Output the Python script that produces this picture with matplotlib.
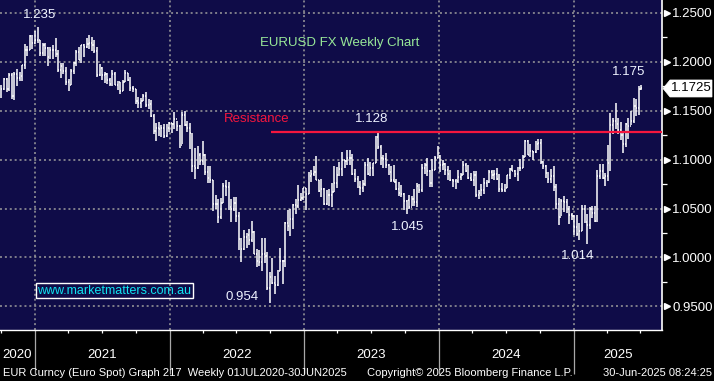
import matplotlib
matplotlib.use('Agg')
import matplotlib.pyplot as plt
import matplotlib.dates as mdates
from matplotlib.patches import Polygon
from matplotlib.transforms import blended_transform_factory, IdentityTransform
from matplotlib.ticker import NullFormatter, FixedLocator
import numpy as np
import pandas as pd

plt.rcParams['font.family'] = ['Liberation Sans', 'DejaVu Sans']

# ---------------- data (weekly EURUSD bars) ----------------
first_week = '2020-09-28'
first_open = 1.1632

high_2020 = [1.1760, 1.1831, 1.1828, 1.1881, 1.1880, 1.1891, 1.1920, 1.1894, 1.1964, 1.2177, 1.2163, 1.2273, 1.2273, 1.2310]
low_2020 = [1.1625, 1.1714, 1.1689, 1.1703, 1.1622, 1.1603, 1.1746, 1.1800, 1.1801, 1.1923, 1.2059, 1.2113, 1.2131, 1.2174]
close_2020 = [1.1715, 1.1826, 1.1717, 1.1860, 1.1647, 1.1875, 1.1833, 1.1856, 1.1962, 1.2121, 1.2113, 1.2256, 1.2188, 1.2216]

high_2021 = [1.2349, 1.2223, 1.2190, 1.2190, 1.2150, 1.2150, 1.2170, 1.2243, 1.2113, 1.1990, 1.1990, 1.1945, 1.1817,
             1.1927, 1.1994, 1.2117, 1.2150, 1.2171, 1.2181, 1.2245, 1.2266, 1.2255, 1.2218, 1.2145, 1.1975, 1.1940,
             1.1895, 1.1880, 1.1831, 1.1909, 1.1898, 1.1804, 1.1793, 1.1810, 1.1909, 1.1884, 1.1846, 1.1753, 1.1720,
             1.1640, 1.1624, 1.1669, 1.1692, 1.1616, 1.1607, 1.1464, 1.1374, 1.1383, 1.1355, 1.1360, 1.1360, 1.1386]
low_2021 = [1.2192, 1.2054, 1.2055, 1.2059, 1.1952, 1.2022, 1.2023, 1.2050, 1.1893, 1.1836, 1.1874, 1.1762, 1.1704,
            1.1760, 1.1874, 1.1953, 1.2015, 1.1986, 1.2051, 1.2135, 1.2133, 1.2104, 1.2092, 1.1847, 1.1848, 1.1808,
            1.1782, 1.1772, 1.1752, 1.1755, 1.1760, 1.1705, 1.1664, 1.1699, 1.1795, 1.1802, 1.1701, 1.1685, 1.1563,
            1.1529, 1.1526, 1.1600, 1.1535, 1.1513, 1.1433, 1.1264, 1.1186, 1.1236, 1.1227, 1.1222, 1.1234, 1.1278]
close_2021 = [1.2221, 1.2082, 1.2170, 1.2136, 1.2046, 1.2118, 1.2119, 1.2075, 1.1915, 1.1952, 1.1903, 1.1794, 1.1763,
              1.1899, 1.1983, 1.2097, 1.2020, 1.2166, 1.2147, 1.2180, 1.2193, 1.2165, 1.2106, 1.1864, 1.1935, 1.1862,
              1.1874, 1.1808, 1.1772, 1.1870, 1.1762, 1.1793, 1.1698, 1.1795, 1.1880, 1.1814, 1.1727, 1.1719, 1.1595,
              1.1572, 1.1601, 1.1645, 1.1560, 1.1567, 1.1444, 1.1287, 1.1318, 1.1315, 1.1317, 1.1240, 1.1320, 1.1370]

high_2022 = [1.1370, 1.1482, 1.1397, 1.1348, 1.1483, 1.1495, 1.1395, 1.1370, 1.1275, 1.1121, 1.1137, 1.1070, 1.1185,
             1.1053, 1.0934, 1.0936, 1.0786, 1.0642, 1.0596, 1.0608, 1.0765, 1.0787, 1.0774, 1.0601, 1.0614, 1.0615,
             1.0466, 1.0203, 1.0279, 1.0254, 1.0294, 1.0368, 1.0275, 1.0090, 1.0079, 1.0198, 1.0198, 1.0051, 0.9854,
             0.9999, 0.9809, 0.9876, 1.0094, 0.9976, 1.0363, 1.0481, 1.0497, 1.0545, 1.0594, 1.0737, 1.0658, 1.0713]
low_2022 = [1.1272, 1.1313, 1.1291, 1.1121, 1.1154, 1.1340, 1.1280, 1.1106, 1.0873, 1.0806, 1.0903, 1.0946, 1.0946,
            1.0837, 1.0757, 1.0760, 1.0472, 1.0492, 1.0349, 1.0390, 1.0557, 1.0627, 1.0485, 1.0359, 1.0470, 1.0366,
            1.0072, 0.9952, 1.0074, 1.0097, 1.0123, 1.0160, 1.0032, 0.9899, 0.9910, 0.9864, 0.9944, 0.9668, 0.9536,
            0.9730, 0.9631, 0.9706, 0.9858, 0.9730, 0.9899, 1.0272, 1.0223, 1.0289, 1.0443, 1.0502, 1.0573, 1.0590]
close_2022 = [1.1360, 1.1412, 1.1341, 1.1147, 1.1454, 1.1349, 1.1323, 1.1271, 1.0930, 1.0912, 1.1050, 1.0985, 1.1045,
              1.0876, 1.0808, 1.0794, 1.0545, 1.0550, 1.0413, 1.0560, 1.0734, 1.0719, 1.0518, 1.0494, 1.0555, 1.0428,
              1.0184, 1.0087, 1.0212, 1.0225, 1.0183, 1.0261, 1.0037, 0.9963, 0.9953, 1.0040, 1.0016, 0.9690, 0.9802,
              0.9741, 0.9722, 0.9862, 0.9966, 0.9961, 1.0355, 1.0325, 1.0397, 1.0537, 1.0530, 1.0585, 1.0612, 1.0705]

high_2023 = [1.0713, 1.0874, 1.0888, 1.0930, 1.1033, 1.0790, 1.0805, 1.0705, 1.0691, 1.0700, 1.0760, 1.0930, 1.0925,
             1.0973, 1.1075, 1.0990, 1.1095, 1.1092, 1.1060, 1.0905, 1.0828, 1.0779, 1.0787, 1.0971, 1.1012, 1.0976,
             1.0968, 1.1245, 1.1276, 1.1149, 1.1047, 1.1065, 1.0955, 1.0930, 1.0946, 1.0798, 1.0768, 1.0737, 1.0657,
             1.0590, 1.0640, 1.0632, 1.0695, 1.0756, 1.0755, 1.0959, 1.0965, 1.1017, 1.0895, 1.1009, 1.1040, 1.1139]
low_2023 = [1.0483, 1.0645, 1.0766, 1.0835, 1.0793, 1.0669, 1.0613, 1.0533, 1.0533, 1.0525, 1.0516, 1.0665, 1.0713,
            1.0830, 1.0832, 1.0910, 1.0945, 1.0940, 1.0845, 1.0772, 1.0706, 1.0635, 1.0666, 1.0733, 1.0844, 1.0833,
            1.0834, 1.0960, 1.1106, 1.0944, 1.0914, 1.0912, 1.0845, 1.0766, 1.0772, 1.0686, 1.0632, 1.0617, 1.0488,
            1.0448, 1.0495, 1.0524, 1.0522, 1.0516, 1.0654, 1.0666, 1.0852, 1.0828, 1.0724, 1.0723, 1.0889, 1.1011]
close_2023 = [1.0645, 1.0830, 1.0856, 1.0868, 1.0794, 1.0679, 1.0695, 1.0547, 1.0638, 1.0642, 1.0670, 1.0760, 1.0839,
              1.0903, 1.0991, 1.0988, 1.1017, 1.1018, 1.0849, 1.0806, 1.0721, 1.0708, 1.0750, 1.0940, 1.0848, 1.0909,
              1.0968, 1.1228, 1.1126, 1.1016, 1.1006, 1.0946, 1.0873, 1.0796, 1.0775, 1.0700, 1.0660, 1.0653, 1.0573,
              1.0588, 1.0511, 1.0593, 1.0565, 1.0729, 1.0684, 1.0912, 1.0942, 1.0883, 1.0762, 1.0895, 1.1012, 1.1039]

high_2024 = [1.1046, 1.0999, 1.0967, 1.0932, 1.0897, 1.0805, 1.0806, 1.0888, 1.0866, 1.0981, 1.0964, 1.0942, 1.0865,
             1.0885, 1.0885, 1.0690, 1.0753, 1.0812, 1.0791, 1.0895, 1.0895, 1.0889, 1.0916, 1.0852, 1.0762, 1.0745,
             1.0845, 1.0910, 1.0948, 1.0888, 1.0926, 1.1009, 1.1048, 1.1201, 1.1202, 1.1155, 1.1090, 1.1190, 1.1214,
             1.1210, 1.0987, 1.0944, 1.0870, 1.0905, 1.0937, 1.0749, 1.0609, 1.0597, 1.0630, 1.0594, 1.0528, 1.0458, 1.0437]
low_2024 = [1.0877, 1.0896, 1.0844, 1.0795, 1.0780, 1.0722, 1.0695, 1.0761, 1.0796, 1.0838, 1.0872, 1.0801, 1.0776,
            1.0725, 1.0622, 1.0601, 1.0624, 1.0650, 1.0724, 1.0764, 1.0805, 1.0788, 1.0794, 1.0668, 1.0672, 1.0666,
            1.0710, 1.0797, 1.0878, 1.0825, 1.0778, 1.0880, 1.0918, 1.1024, 1.1044, 1.1026, 1.0996, 1.1068, 1.1100,
            1.0950, 1.0900, 1.0811, 1.0761, 1.0762, 1.0682, 1.0496, 1.0333, 1.0425, 1.0460, 1.0452, 1.0343, 1.0379, 1.0226]
close_2024 = [1.0940, 1.0951, 1.0897, 1.0852, 1.0788, 1.0784, 1.0777, 1.0821, 1.0838, 1.0939, 1.0886, 1.0808, 1.0790,
              1.0837, 1.0642, 1.0656, 1.0693, 1.0761, 1.0771, 1.0869, 1.0847, 1.0848, 1.0801, 1.0703, 1.0693, 1.0713,
              1.0840, 1.0908, 1.0882, 1.0855, 1.0912, 1.0916, 1.1028, 1.1192, 1.1048, 1.1085, 1.1076, 1.1163, 1.1164,
              1.0974, 1.0937, 1.0867, 1.0797, 1.0834, 1.0719, 1.0544, 1.0417, 1.0577, 1.0567, 1.0500, 1.0429, 1.0427, 1.0308]

high_2025 = [1.0437, 1.0353, 1.0533, 1.0533, 1.0442, 1.0513, 1.0529, 1.0528, 1.0888, 1.0955, 1.0954, 1.0858, 1.1146,
             1.1474, 1.1425, 1.1573, 1.1425, 1.1380, 1.1266, 1.1376, 1.1419, 1.1495, 1.1631, 1.1614, 1.1754, 1.1758]
low_2025 = [1.0215, 1.0178, 1.0266, 1.0352, 1.0141, 1.0286, 1.0402, 1.0360, 1.0360, 1.0805, 1.0797, 1.0733, 1.0778,
            1.0882, 1.1264, 1.1310, 1.1265, 1.1203, 1.1065, 1.1129, 1.1210, 1.1355, 1.1372, 1.1446, 1.1452, 1.1710]
close_2025 = [1.0244, 1.0272, 1.0494, 1.0362, 1.0330, 1.0493, 1.0459, 1.0376, 1.0834, 1.0879, 1.0815, 1.0831, 1.0960,
              1.1357, 1.1396, 1.1363, 1.1298, 1.1251, 1.1163, 1.1364, 1.1347, 1.1397, 1.1550, 1.1523, 1.1719, 1.1725]

resistance_level = 1.128
resistance_start = '2022-10-03'

y_major = [0.95, 1.00, 1.05, 1.10, 1.15, 1.20, 1.25]
y_minor = [0.975, 1.025, 1.075, 1.125, 1.175, 1.225]
year_labels = ['2020', '2021', '2022', '2023', '2024', '2025']

# ---------------- assemble ----------------
highs = np.array(high_2020 + high_2021 + high_2022 + high_2023 + high_2024 + high_2025)
lows = np.array(low_2020 + low_2021 + low_2022 + low_2023 + low_2024 + low_2025)
closes = np.array(close_2020 + close_2021 + close_2022 + close_2023 + close_2024 + close_2025)
opens = np.concatenate([[first_open], closes[:-1]])
week_dates = pd.date_range(first_week, periods=len(closes), freq='W-MON') + pd.Timedelta(days=4)
xd = mdates.date2num(week_dates.to_pydatetime())

W, H = 714, 381
AX_W, AX_H, AX_B = 662, 330, 51
NAVY = '#0f0c48'
GRID = '#9c9c9c'

fig = plt.figure(figsize=(W / 100, H / 100), dpi=100, facecolor='black')
ax = fig.add_axes([0, AX_B / H, AX_W / W, AX_H / H])
ax.set_facecolor(NAVY)

x_left = mdates.date2num(pd.Timestamp('2020-09-28'))
x_right = mdates.date2num(pd.Timestamp('2025-08-29'))
ax.set_xlim(x_left, x_right)
ax.set_ylim(0.926, 1.2628)

# grid
dots = (0, (1.3, 1.9))
for v in y_major:
    ax.axhline(v, color=GRID, lw=1.1, ls=dots, zorder=1)
year_starts = [mdates.date2num(pd.Timestamp(f'{y}-01-01')) for y in range(2021, 2026)]
for xv in year_starts:
    ax.axvline(xv, color=GRID, lw=1.1, ls=dots, zorder=1)

# OHLC bars
tick = 2.4
lw = 1.1
ax.vlines(xd, lows, highs, color='white', lw=lw, zorder=3)
ax.hlines(opens, xd - tick, xd, color='white', lw=lw, zorder=3)
ax.hlines(closes, xd, xd + tick, color='white', lw=lw, zorder=3)

# resistance line
ax.hlines(resistance_level, mdates.date2num(pd.Timestamp(resistance_start)), x_right,
          color='#f5163e', lw=1.6, zorder=4)

# spines
for s in ['left', 'top']:
    ax.spines[s].set_visible(False)
ax.spines['right'].set_color('white')
ax.spines['right'].set_linewidth(1.2)
ax.spines['bottom'].set_color('white')
ax.spines['bottom'].set_linewidth(1.0)

# y axis on right
ax.yaxis.tick_right()
ax.yaxis.set_major_locator(FixedLocator(y_major))
ax.set_yticklabels([f'{v:.4f}' for v in y_major])
ax.yaxis.set_minor_locator(FixedLocator(y_minor))
ax.tick_params(axis='y', which='major', length=0, pad=7.5, labelcolor='white', labelsize=9.5)
ax.tick_params(axis='y', which='minor', length=3.5, width=0.9, color='white', direction='out')
tri_tr = blended_transform_factory(ax.transAxes, ax.transData)
ax.plot([1 + 4.5 / AX_W] * len(y_major), y_major, ls='none', marker='>', ms=5, color='white',
        mec='white', transform=tri_tr, clip_on=False, zorder=5)

# x axis
ax.xaxis.set_major_locator(FixedLocator(year_starts))
ax.xaxis.set_major_formatter(NullFormatter())
ax.xaxis.set_minor_locator(mdates.MonthLocator(bymonth=[4, 7, 10]))
ax.xaxis.set_minor_formatter(NullFormatter())
ax.tick_params(axis='x', which='major', length=32, width=0.9, color='#a8a8a8', direction='out')
ax.tick_params(axis='x', which='minor', length=2.5, width=0.9, color='white', direction='out')

bounds = [x_left] + year_starts + [x_right]
lab_tr = blended_transform_factory(ax.transData, ax.transAxes)
for i, lab in enumerate(year_labels):
    mid = (bounds[i] + bounds[i + 1]) / 2
    ax.text(mid, -25 / AX_H, lab, transform=lab_tr, ha='center', va='center',
            color='white', fontsize=9.5, clip_on=False)

# annotations (axes-fraction positions)
def at(px, py):
    return px / AX_W, 1 - py / AX_H

txt_kw = dict(transform=ax.transAxes, ha='center', va='center', zorder=6)
ax.text(*at(39.5, 15), '1.235', color='#eef2ff', fontsize=9.5, **txt_kw)
ax.text(*at(340, 43), 'EURUSD FX Weekly Chart', color='#98e898', fontsize=9.5, **txt_kw)
ax.text(*at(257, 119), 'Resistance', color='#f5163e', fontsize=9.5, **txt_kw)
ax.text(*at(371.5, 119), '1.128', color='#eef2ff', fontsize=9.5, **txt_kw)
ax.text(*at(407.5, 227), '1.045', color='#eef2ff', fontsize=9.5, **txt_kw)
ax.text(*at(577.5, 256), '1.014', color='#eef2ff', fontsize=9.5, **txt_kw)
ax.text(*at(242, 297), '0.954', color='#eef2ff', fontsize=9.5, **txt_kw)
ax.text(*at(629, 72), '1.175', color='#eef2ff', fontsize=9.5, **txt_kw)
ax.text(*at(114.5, 290.5), 'www.marketmatters.com.au', color='#10e4f0', fontsize=9.0,
        bbox=dict(boxstyle='square,pad=0.12', fc='none', ec='white', lw=1.0), **txt_kw)

# last price box
fig.canvas.draw()
last = closes[-1]
py = ax.transData.transform((x_left, last))[1]
hh = 8.5
verts = [(663, py), (670, py + hh), (712, py + hh), (712, py - hh), (670, py - hh)]
fig.patches.append(Polygon(verts, closed=True, fc='white', ec='white', lw=0.5,
                           transform=IdentityTransform(), figure=fig))
fig.text(691 / W, py / H, f'{last:.4f}', ha='center', va='center', color='black', fontsize=9.5)

# footer
foot_y = (H - 373) / H
fig.text(3 / W, foot_y, 'EUR Curncy (Euro Spot) Graph 217  Weekly 01JUL2020-30JUN2025',
         color='white', fontsize=8, ha='left', va='center')
fig.text(367 / W, foot_y, 'Copyright\u00a9 2025 Bloomberg Finance L.P.',
         color='white', fontsize=8, ha='left', va='center')
fig.text(712 / W, foot_y, '30-Jun-2025 08:24:25', color='white', fontsize=8, ha='right', va='center')

fig.savefig('out.png', dpi=100, facecolor='black')
